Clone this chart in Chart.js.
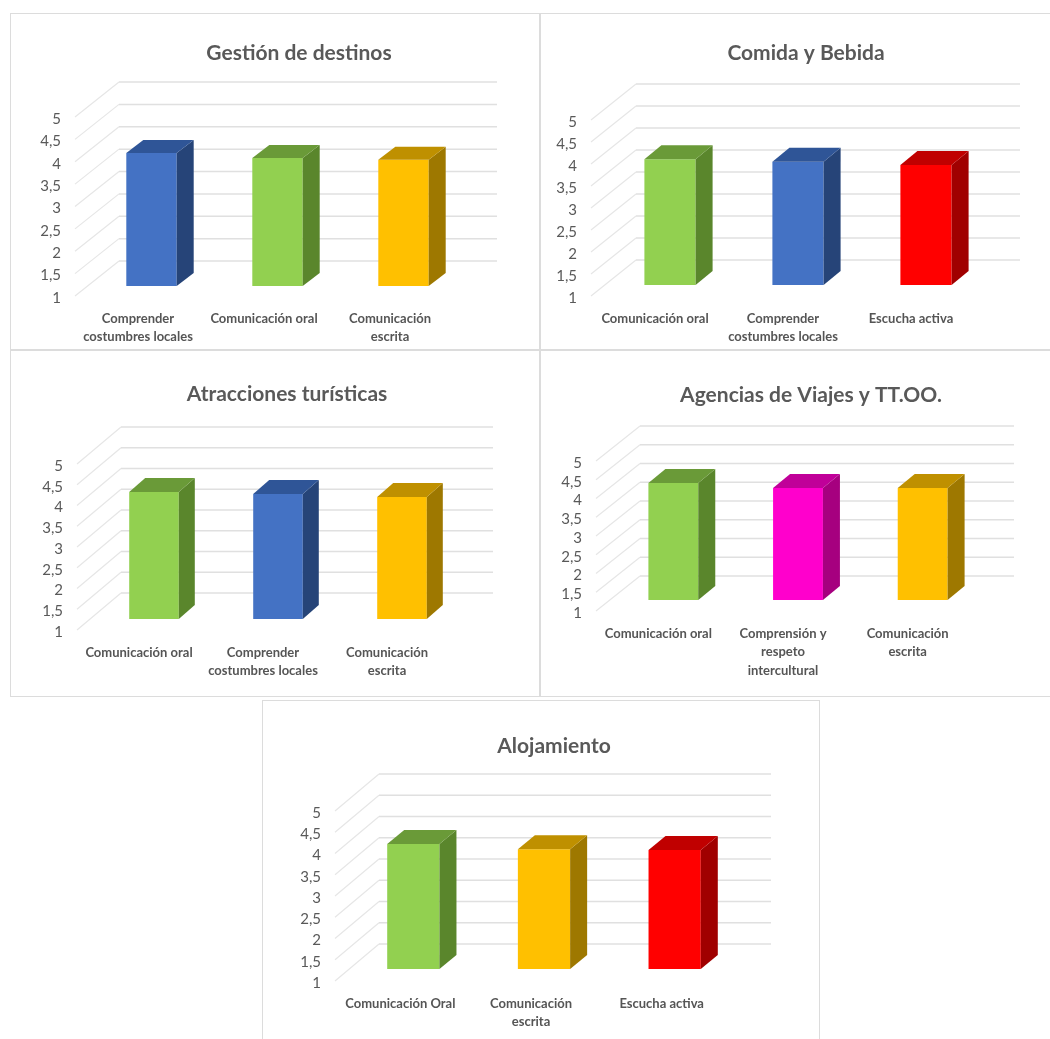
<!DOCTYPE html>
<html lang="es">
<head>
<meta charset="utf-8">
<title>Competencias por sector</title>
<script src="https://cdn.jsdelivr.net/npm/chart.js@4"></script>
<style>
  html, body { margin: 0; padding: 0; background: #fff; }
  body { position: relative; width: 1050px; height: 1039px; overflow: hidden; }
  canvas { position: absolute; outline: 1.5px solid #dcdcdc; outline-offset: -1px; }
</style>
</head>
<body>
<script>
const scoreTicks = [1, 1.5, 2, 2.5, 3, 3.5, 4, 4.5, 5];

const gestionLabels = [['Comprender', 'costumbres locales'], 'Comunicación oral', ['Comunicación', 'escrita']];
const gestionValues = [3.97, 3.86, 3.82];
const gestionColors = ['blue', 'green', 'amber'];

const comidaLabels = ['Comunicación oral', ['Comprender', 'costumbres locales'], 'Escucha activa'];
const comidaValues = [3.86, 3.8, 3.73];
const comidaColors = ['green', 'blue', 'red'];

const atraccionesLabels = ['Comunicación oral', ['Comprender', 'costumbres locales'], ['Comunicación', 'escrita']];
const atraccionesValues = [4.06, 4.01, 3.94];
const atraccionesColors = ['green', 'blue', 'amber'];

const agenciasLabels = ['Comunicación oral', ['Comprensión y', 'respeto', 'intercultural'], ['Comunicación', 'escrita']];
const agenciasValues = [4.12, 3.99, 3.99];
const agenciasColors = ['green', 'magenta', 'amber'];

const alojamientoLabels = ['Comunicación Oral', ['Comunicación', 'escrita'], 'Escucha activa'];
const alojamientoValues = [3.94, 3.82, 3.8];
const alojamientoColors = ['green', 'amber', 'red'];

// front, top and side face of each bar colour
const faces = {
  blue: ['#4472C4', '#2F5597', '#264478'],
  green: ['#92D050', '#6A9A38', '#5A862C'],
  amber: ['#FFC000', '#BF9000', '#9E7800'],
  red: ['#FF0000', '#C00000', '#A00000'],
  magenta: ['#FF00CC', '#C00099', '#A6007F']
};

const panels = [
  { title: 'Gestión de destinos', labels: gestionLabels, values: gestionValues, colors: gestionColors,
    box: [10, 13, 530, 337], area: [75, 117, 453, 296], titleCenter: [299, 53],
    back: [44, 35], barShift: [13.5, 10], barDepth: [17, 13] },
  { title: 'Comida y Bebida', labels: comidaLabels, values: comidaValues, colors: comidaColors,
    box: [540, 13, 515, 337], area: [591, 120, 975, 296], titleCenter: [806, 53],
    back: [45, 36], barShift: [15, 11], barDepth: [17, 14] },
  { title: 'Atracciones turísticas', labels: atraccionesLabels, values: atraccionesValues, colors: atraccionesColors,
    box: [10, 350, 530, 347], area: [77, 464, 449, 630], titleCenter: [287, 394],
    back: [44, 37], barShift: [15, 11], barDepth: [16, 14] },
  { title: 'Agencias de Viajes y TT.OO.', labels: agenciasLabels, values: agenciasValues, colors: agenciasColors,
    box: [540, 350, 515, 347], area: [596, 461, 970, 611], titleCenter: [811, 395],
    back: [44, 35], barShift: [15, 11], barDepth: [17, 14] },
  { title: 'Alojamiento', labels: alojamientoLabels, values: alojamientoValues, colors: alojamientoColors,
    box: [262, 700, 558, 345], area: [335, 811, 727, 981], titleCenter: [554, 746],
    back: [44, 37], barShift: [13, 12], barDepth: [17, 14] }
];

const fontFamily = 'Lato, "Open Sans", sans-serif';
const titleSize = 21;
const titleLine = 1.2;

function polygon(ctx, points, fill) {
  ctx.beginPath();
  points.forEach(([x, y], i) => (i ? ctx.lineTo(x, y) : ctx.moveTo(x, y)));
  ctx.closePath();
  ctx.fillStyle = fill;
  ctx.fill();
}

// Excel-style 3D column look: floor and back wall behind, extruded faces on the bars
const box3d = {
  id: 'box3d',
  afterLayout(chart, args, opts) {
    // the title sits over the whole panel, not over the plot area
    const half = chart.width / 2;
    chart.titleBlock.left = opts.titleX - half;
    chart.titleBlock.right = opts.titleX + half;
  },
  beforeDatasetsDraw(chart, args, opts) {
    const { ctx, scales: { x, y } } = chart;
    const [bx, by] = opts.back;
    scoreTicks.forEach(v => {
      const py = y.getPixelForValue(v);
      ctx.save();
      ctx.strokeStyle = '#e6e6e6';
      ctx.lineWidth = 1.2;
      ctx.beginPath();
      ctx.moveTo(x.left, py);
      ctx.lineTo(x.left + bx, py - by);
      ctx.stroke();
      ctx.strokeStyle = '#e0e0e0';
      ctx.lineWidth = 1.5;
      ctx.beginPath();
      ctx.moveTo(x.left + bx, py - by);
      ctx.lineTo(x.right + bx, py - by);
      ctx.stroke();
      ctx.restore();
    });
    ctx.save();
    ctx.translate(opts.barShift[0], -opts.barShift[1]);
  },
  afterDatasetsDraw(chart, args, opts) {
    const { ctx } = chart;
    const [dx, dy] = opts.barDepth;
    chart.getDatasetMeta(0).data.forEach((bar, i) => {
      const { x, y, base, width } = bar.getProps(['x', 'y', 'base', 'width'], true);
      const l = x - width / 2;
      const r = x + width / 2;
      const [, top, side] = faces[opts.colors[i]];
      polygon(ctx, [[r, y], [r + dx, y - dy], [r + dx, base - dy], [r, base]], side);
      polygon(ctx, [[l, y], [l + dx, y - dy], [r + dx, y - dy], [r, y]], top);
    });
    ctx.restore();
  }
};

function drawPanel(p) {
  const [bx, by, bw, bh] = p.box;
  const [al, at, ar, ab] = p.area;
  const canvas = document.createElement('canvas');
  canvas.width = bw;
  canvas.height = bh;
  canvas.style.left = bx + 'px';
  canvas.style.top = by + 'px';
  document.body.appendChild(canvas);

  const titleH = titleSize * titleLine;
  const titleTop = p.titleCenter[1] - by - titleH / 2;

  new Chart(canvas, {
    type: 'bar',
    data: {
      labels: p.labels,
      datasets: [{
        data: p.values,
        base: 1,
        backgroundColor: p.colors.map(c => faces[c][0]),
        barPercentage: 0.4,
        categoryPercentage: 1,
        clip: false
      }]
    },
    options: {
      responsive: false,
      animation: false,
      layout: { padding: { left: 0, top: 0, right: bw - (ar - bx), bottom: 0 } },
      plugins: {
        legend: { display: false },
        tooltip: { enabled: false },
        title: {
          display: true,
          text: p.title,
          color: '#595959',
          font: { family: fontFamily, size: titleSize, weight: 'bold', lineHeight: titleLine },
          padding: { top: titleTop, bottom: at - by - titleTop - titleH }
        },
        box3d: {
          titleX: p.titleCenter[0] - bx,
          colors: p.colors,
          back: p.back,
          barShift: p.barShift,
          barDepth: p.barDepth
        }
      },
      scales: {
        x: {
          grid: { display: false },
          border: { display: false },
          afterFit(scale) { scale.height = bh - (ab - by); },
          ticks: {
            color: '#555555',
            font: { family: fontFamily, size: 13, weight: 'bold', lineHeight: 1.45 },
            padding: 5,
            autoSkip: false,
            maxRotation: 0,
            minRotation: 0
          }
        },
        y: {
          min: 1,
          max: 5,
          grid: { display: false },
          border: { display: false },
          afterFit(scale) { scale.width = al - bx; },
          afterBuildTicks(scale) { scale.ticks = scoreTicks.map(value => ({ value })); },
          ticks: {
            color: '#595959',
            font: { family: fontFamily, size: 15 },
            padding: 6,
            autoSkip: false,
            labelOffset: 2,
            callback: v => String(v).replace('.', ',')
          }
        }
      }
    },
    plugins: [box3d]
  });
}

panels.forEach(drawPanel);
</script>
</body>
</html>
